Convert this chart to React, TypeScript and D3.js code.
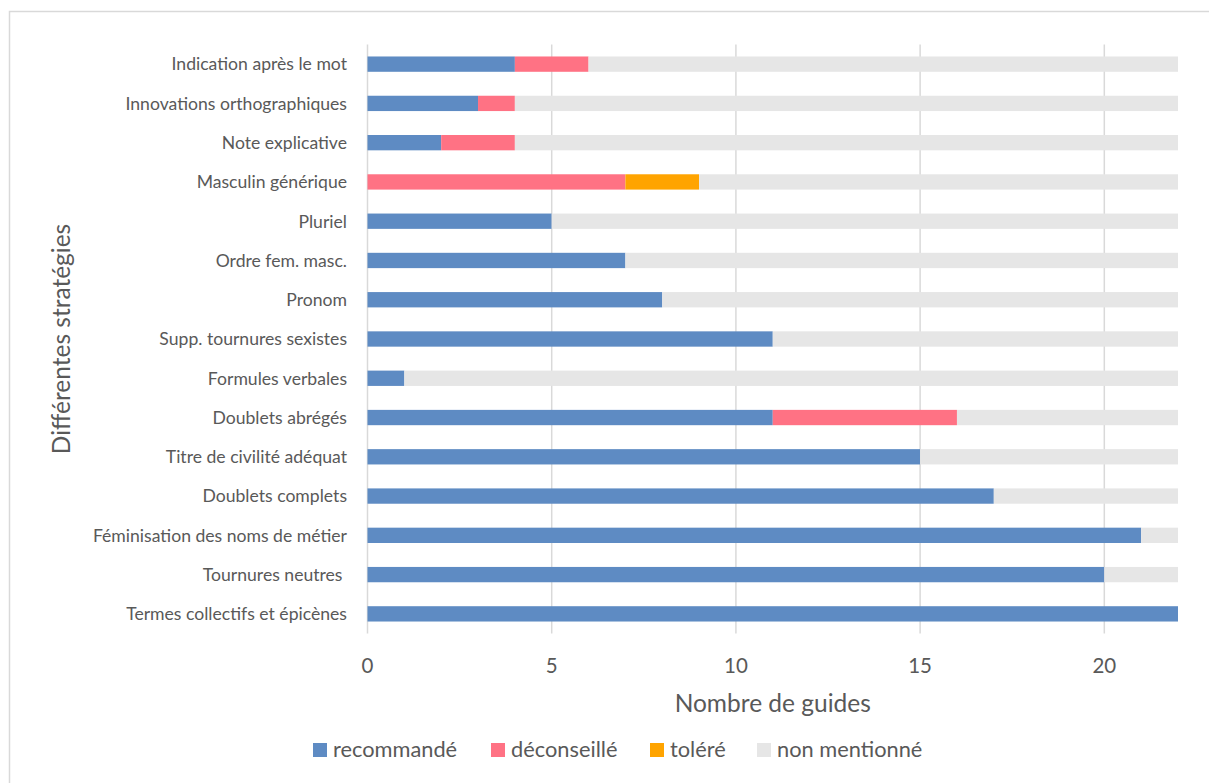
import React from "react";
import * as d3 from "d3";

const categories = [
  "Indication après le mot",
  "Innovations orthographiques",
  "Note explicative",
  "Masculin générique",
  "Pluriel",
  "Ordre fem. masc.",
  "Pronom",
  "Supp. tournures sexistes",
  "Formules verbales",
  "Doublets abrégés",
  "Titre de civilité adéquat",
  "Doublets complets",
  "Féminisation des noms de métier",
  "Tournures neutres ",
  "Termes collectifs et épicènes",
];
const recommande = [4, 3, 2, 0, 5, 7, 8, 11, 1, 11, 15, 17, 21, 20, 22];
const deconseille = [2, 1, 2, 7, 0, 0, 0, 0, 0, 5, 0, 0, 0, 0, 0];
const tolere = [0, 0, 0, 2, 0, 0, 0, 0, 0, 0, 0, 0, 0, 0, 0];
const nonMentionne = [16, 18, 18, 13, 17, 15, 14, 11, 21, 6, 7, 5, 1, 2, 0];
const seriesNames = ["recommandé", "déconseillé", "toléré", "non mentionné"];
const xTicks = [0, 5, 10, 15, 20];

const colors = ["#5E8BC3", "#FF7284", "#FFA400", "#E6E6E6"];
const FONT = "Lato, 'Liberation Sans', sans-serif";
const TXT = "#595959";

export default function App() {
  const W = 1209, H = 783;
  const left = 367.5, right = 1178, top = 44.5, bottom = 633.5;
  const x = d3.scaleLinear().domain([0, 22]).range([left, right]);
  const y = d3.scaleBand().domain(categories).range([top, bottom]).paddingInner(0.61).paddingOuter(0.305);
  const rows = categories.map((c, i) => ({ cat: c, rec: recommande[i], dec: deconseille[i], tol: tolere[i], non: nonMentionne[i] }));
  const stack = d3.stack<any>().keys(["rec", "dec", "tol", "non"])(rows);
  const legendX = [313, 491, 650, 757];

  return (
    <svg width={W} height={H} style={{ position: "absolute", left: 0, top: 0, background: "#fff" }}>
      <rect x={9.5} y={11.5} width={1220} height={800} fill="#fff" stroke="#D9D9D9" strokeWidth={1.5} />
      {xTicks.map((t) => (
        <line key={t} x1={x(t)} x2={x(t)} y1={top} y2={bottom} stroke="#D9D9D9" strokeWidth={1.5} />
      ))}
      {stack.map((s, si) => (
        <g key={si} fill={colors[si]}>
          {s.map((d, i) => {
            const w = x(d[1]) - x(d[0]);
            if (w <= 0) return null;
            return <rect key={i} x={x(d[0])} y={y(categories[i])!} width={w} height={y.bandwidth()} />;
          })}
        </g>
      ))}
      {categories.map((c) => (
        <text key={c} x={347} y={y(c)! + y.bandwidth() / 2} dy="0.36em" textAnchor="end" fontFamily={FONT} fontSize={17.6} fill={TXT} style={{ whiteSpace: "pre" }}>
          {c}
        </text>
      ))}
      {xTicks.map((t) => (
        <text key={t} x={x(t)} y={673} textAnchor="middle" fontFamily={FONT} fontSize={20.5} fill={TXT}>{t}</text>
      ))}
      <text x={(left + right) / 2} y={712} textAnchor="middle" fontFamily={FONT} fontSize={24.5} fill={TXT}>Nombre de guides</text>
      <text transform={`translate(70,${(top + bottom) / 2}) rotate(-90)`} textAnchor="middle" fontFamily={FONT} fontSize={24.5} fill={TXT}>Différentes stratégies</text>
      {seriesNames.map((n, i) => (
        <g key={n}>
          <rect x={legendX[i]} y={743} width={14} height={14} fill={colors[i]} />
          <text x={legendX[i] + 20} y={757} fontFamily={FONT} fontSize={21.8} fill={TXT}>{n}</text>
        </g>
      ))}
    </svg>
  );
}
